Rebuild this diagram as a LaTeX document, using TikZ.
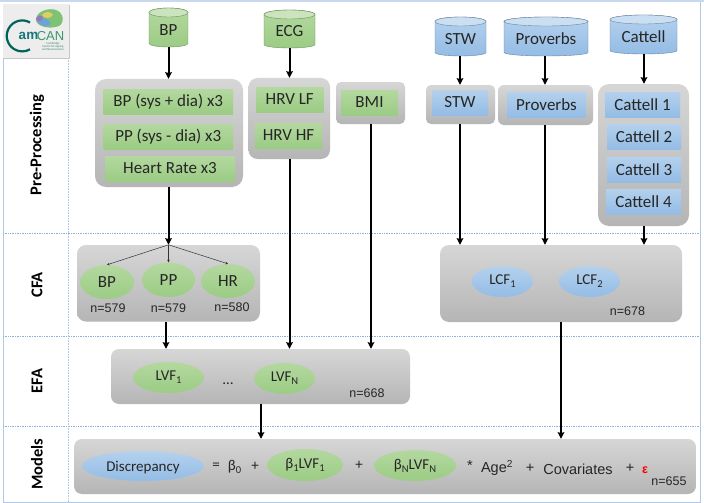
\documentclass[tikz,border=0pt]{standalone}
\usepackage{fontspec}
\setmainfont{Carlito}
\newfontfamily\helv{Liberation Sans}
\usetikzlibrary{arrows.meta,shapes.geometric,calc}
\definecolor{inkc}{HTML}{262626}
\definecolor{gridb}{HTML}{8FB0DF}
\definecolor{frameb}{HTML}{B4C8E6}
\definecolor{cygt}{RGB}{180,216,160}\definecolor{cygb}{RGB}{155,204,132}
\definecolor{cybt}{RGB}{180,209,237}\definecolor{cybb}{RGB}{148,188,229}
\tikzset{
  arr/.style={line width=2pt,black,-{Stealth[length=6.5pt,width=6.5pt,inset=0.6pt]}},
  thinarr/.style={line width=0.5pt,black!80,-{Stealth[length=2.6pt,width=2.6pt]}},
  grid line/.style={gridb,line width=0.7pt,densely dotted},
  frame line/.style={frameb,line width=0.9pt},
  grayc/.style={rectangle,rounded corners=#1,top color=black!16,bottom color=black!29,draw=none,inner sep=0pt},
  grayc/.default=9pt,
  greenbox/.style={rectangle,inner sep=0pt,text=inkc,font=\fontsize{17}{17}\selectfont,top color=cygt,bottom color=cygb},
  bluebox/.style={rectangle,inner sep=0pt,text=inkc,font=\fontsize{17}{17}\selectfont,top color=cybt,bottom color=cybb},
  greenell/.style={ellipse,inner sep=0pt,text=inkc,font=\fontsize{17}{17}\selectfont,top color=cygt,bottom color=cygb},
  blueell/.style={ellipse,inner sep=0pt,text=inkc,font=\fontsize{17}{17}\selectfont,top color=cybt,bottom color=cybb},
  cyllabel/.style={rectangle,inner sep=0pt,text=inkc,font=\fontsize{17}{17}\selectfont},
  nlabel/.style={inner sep=0pt,text=inkc,font=\helv\fontsize{12.5}{12.5}\selectfont},
  modeltext/.style={inner sep=0pt,text=inkc,font=\fontsize{15}{15}\selectfont},
  modelhelv/.style={inner sep=0pt,text=inkc,font=\helv\fontsize{14.5}{14.5}\selectfont},
  rowlabel/.style={rotate=90,inner sep=0pt,text=black,font=\bfseries\fontsize{16.5}{16.5}\selectfont},
}
% box by its corners: style, name, x1, y1, x2, y2, text
\newcommand{\pxbox}[7]{%
  \pgfmathsetmacro{\pxw}{#5-#3}\pgfmathsetmacro{\pxh}{#6-#4}%
  \node[#1,minimum width=\pxw pt,minimum height=\pxh pt] (#2) at ({(#3+#5)/2},{(#4+#6)/2}) {#7};}
% cylinder by its corners: name, x1, y1, x2, y2, top colour, bottom colour, text
\newcommand{\pxcyl}[8]{%
  \pgfmathsetmacro{\midx}{(#2+#4)/2}\pgfmathsetmacro{\rx}{(#4-#2)/2}%
  \path[top color=#6,bottom color=#7,draw=#7!70!black,line width=0.4pt]
    (#2,#3+4.5) -- (#2,#5-3.5) arc[start angle=180,end angle=360,x radius=\rx pt,y radius=3.5pt]
    -- (#4,#3+4.5) arc[start angle=0,end angle=180,x radius=\rx pt,y radius=4.5pt] -- cycle;
  \path[fill=#6!70!white,draw=#7!70!black,line width=0.4pt] (\midx,#3+4.5) ellipse[x radius=\rx pt,y radius=4.5pt];
  \pgfmathsetmacro{\pxw}{#4-#2}\pgfmathsetmacro{\pxh}{#5-#3}%
  \node[cyllabel,minimum width=\pxw pt,minimum height=\pxh pt] (#1) at (\midx,{(#3+#5)/2}) {\raisebox{-8pt}[0pt][0pt]{#8}};}
\newcommand{\lowtxt}[1]{\raisebox{-0.4ex}{\fontsize{10.5}{10.5}\selectfont #1}}
\begin{document}
\begin{tikzpicture}[x=1pt,y=-1pt]
\useasboundingbox (0,0) rectangle (704,503);
\fill[white] (0,0) rectangle (704,503);
% frame and rows
\fill[frameb!70!white] (0,0) rectangle (704,2);
\draw[frame line] (3,58) -- (3,502) -- (700,502) -- (700,2);
\draw[grid line] (3,233.5) -- (700,233.5);
\draw[grid line] (3,336) -- (700,336);
\draw[grid line] (3,426) -- (700,426);
\draw[gridb!70!white,line width=0.6pt,densely dotted] (68.5,58) -- (68.5,502);
% logo
\fill[black!22] (3,5) rectangle (69.5,59);
\fill[white!93!black] (3,4) rectangle (69,58);
\draw[line width=2.2pt,color={rgb,255:red,0;green,100;blue,90}] (30,22.5) arc[start angle=60,end angle=300,radius=15.5pt];
\fill[color={rgb,255:red,125;green,195;blue,115}] (36,21) .. controls (35,12) and (47,8) .. (54,9.5) .. controls (64,11) and (65,23) .. (59,26) .. controls (52,29) and (39,28) .. (36,21) -- cycle;
\fill[color={rgb,255:red,110;green,160;blue,220}] (37,21) .. controls (42,17) and (48,18) .. (51,23) .. controls (49,28) and (40,27) .. (37,21) -- cycle;
\fill[color={rgb,255:red,225;green,205;blue,100}] (42,15) .. controls (45,11) and (51,11) .. (53,15) .. controls (50,19) and (45,19) .. (42,15) -- cycle;
\fill[color={rgb,255:red,150;green,120;blue,190}] (36,19) .. controls (37,15) and (42,14) .. (43,18) .. controls (42,22) and (37,22) .. (36,19) -- cycle;
\node[inner sep=0pt,font=\helv\bfseries\fontsize{13.5}{13.5}\selectfont,color={rgb,255:red,20;green,120;blue,125}] (logoam) at (28.5,36) {am};
\node[inner sep=0pt,font=\helv\fontsize{13}{13}\selectfont,color={rgb,255:red,60;green,150;blue,110}] (logocan) at (50.5,36) {CAN};
\node[inner sep=0pt,align=center,font=\fontsize{3}{3.3}\selectfont,color={rgb,255:red,60;green,130;blue,110}] (logosub) at (53,46.5) {Cambridge\\Centre for Ageing\\and Neuroscience};
% row labels
\node[rowlabel] (lpre) at (37,145) {Pre-Processing};
\node[rowlabel] (lcfa) at (37,285) {CFA};
\node[rowlabel] (lefa) at (37,381) {EFA};
\node[rowlabel] (lmod) at (37,464) {Models};
% cylinders
\pxcyl{cbp}{149}{8}{188}{47}{cygt}{cygb}{BP}
\pxcyl{cecg}{264}{10}{315}{48}{cygt}{cygb}{ECG}
\pxcyl{cstw}{435}{17}{486}{56}{cybt}{cybb}{STW}
\pxcyl{cprov}{504}{17}{588}{56}{cybt}{cybb}{Proverbs}
\pxcyl{ccat}{610}{15}{677}{54}{cybt}{cybb}{Cattell}
% pre-processing groups
\pxbox{grayc=11pt}{gbp}{95}{79}{243}{187}{}
\pxbox{grayc=9pt}{ghrv}{248.5}{78}{330}{159}{}
\pxbox{grayc=5pt}{gbmi}{336}{82}{405}{124}{}
\pxbox{grayc=5pt}{gstw}{426}{85}{495}{124}{}
\pxbox{grayc=6pt}{gprov}{498}{85}{593}{125}{}
\pxbox{grayc=11pt}{gcat}{598}{84}{689}{226}{}
\pxbox{greenbox}{b1}{103.5}{89}{233}{114}{BP (sys + dia) x3}
\pxbox{greenbox}{b2}{103.5}{124}{233}{149}{PP (sys - dia) x3}
\pxbox{greenbox}{b3}{105}{156}{235}{181}{Heart Rate x3}
\pxbox{greenbox}{h1}{256}{87}{323.5}{112}{HRV LF}
\pxbox{greenbox}{h2}{255}{123}{322}{148}{HRV HF}
\pxbox{greenbox}{bmi}{341}{90}{398}{115}{BMI}
\pxbox{bluebox}{stw}{432}{90}{488}{115}{STW}
\pxbox{bluebox}{prov}{507}{92}{586}{117}{Proverbs}
\pxbox{bluebox}{cat1}{605}{92}{680}{117}{Cattell 1}
\pxbox{bluebox}{cat2}{607}{124}{681}{149}{Cattell 2}
\pxbox{bluebox}{cat3}{607}{157}{681}{182}{Cattell 3}
\pxbox{bluebox}{cat4}{606}{189}{681}{214}{Cattell 4}
% CFA
\pxbox{grayc=9pt}{gcfa}{77}{245}{260}{321.5}{}
\pxbox{greenell}{ebp}{80}{265}{134}{299}{BP}
\pxbox{greenell}{epp}{142}{262.5}{195}{297}{PP}
\pxbox{greenell}{ehr}{201}{264}{255}{298}{HR}
\node[nlabel] (n1) at (108,308.5) {n=579};
\node[nlabel] (n2) at (168.5,308.5) {n=579};
\node[nlabel] (n3) at (232,307) {n=580};
\pxbox{grayc=9pt}{glcf}{440}{245}{682}{322}{}
\pxbox{blueell}{lcf1}{472}{266}{533}{297}{\fontsize{15}{15}\selectfont LCF\lowtxt{1}}
\pxbox{blueell}{lcf2}{559}{266}{620}{297}{\fontsize{15}{15}\selectfont LCF\lowtxt{2}}
\node[nlabel] (n4) at (627.5,311.5) {n=678};
% EFA
\pxbox{grayc=8pt}{gefa}{111}{349}{410}{404}{}
\pxbox{greenell}{lvf1}{133}{362}{204}{393}{\fontsize{15}{15}\selectfont LVF\lowtxt{1}}
\pxbox{greenell}{lvfn}{254}{363}{315}{394}{\fontsize{15}{15}\selectfont LVF\lowtxt{N}}
\node[inner sep=0pt,text=inkc,font=\fontsize{15}{15}\selectfont] (dots) at (228,384) {\dots};
\node[nlabel] (n5) at (367,393.5) {n=668};
% Models
\pxbox{grayc=8pt}{gmod}{74}{439}{696}{494}{}
\pxbox{blueell}{disc}{82}{451}{204}{481}{\fontsize{15}{15}\selectfont\raisebox{-5pt}[0pt][0pt]{Discrepancy}}
\node[modeltext] (eq) at (216,466) {=};
\node[modeltext] (b0) at (234.5,467) {β\lowtxt{0}};
\node[modeltext] (p1) at (255,466) {+};
\pxbox{greenell}{m1}{267}{449}{343}{481}{\fontsize{15}{15}\selectfont β\lowtxt{1}LVF\lowtxt{1}}
\node[modeltext] (p2) at (359,465) {+};
\pxbox{greenell}{m2}{374}{450}{456}{481}{\fontsize{15}{15}\selectfont β\lowtxt{N}LVF\lowtxt{N}}
\node[modelhelv] (star) at (470,466) {*};
\node[modelhelv] (age) at (497,468) {Age\textsuperscript{2}};
\node[modelhelv] (p3) at (530,468) {+};
\node[modelhelv] (cov) at (578,469) {Covariates};
\node[modelhelv] (p4) at (630,468) {+};
\node[inner sep=0pt,text=red,font=\helv\bfseries\fontsize{12.5}{12.5}\selectfont] (eps) at (645,470) {ε};
\node[nlabel] (n6) at (669,481) {n=655};
% connectors
\coordinate (xlvf) at (166,0);
\coordinate (xhrv) at (289.5,0);
\coordinate (xbmi) at (371,0);
\coordinate (xefa) at (261,0);
\coordinate (xlcf) at (561,0);
\coordinate (xstw) at (460,0);
\coordinate (xprov) at (545,0);
\coordinate (xcat) at (644,0);
\coordinate (xbp) at (168.5,0);
\draw[arr] (cbp.south -| xbp) -- (gbp.north -| xbp);
\draw[arr] (cecg.south -| xhrv) -- (ghrv.north -| xhrv);
\draw[arr] (cstw.south -| xstw) -- (gstw.north -| xstw);
\draw[arr] (cprov.south -| xprov) -- (gprov.north -| xprov);
\draw[arr] (ccat.south -| xcat) -- (gcat.north -| xcat);
\draw[arr] (gbp.south -| xbp) -- (gcfa.north -| xbp);
\draw[arr] (ghrv.south -| xhrv) -- (gefa.north -| xhrv);
\draw[arr] (gbmi.south -| xbmi) -- (gefa.north -| xbmi);
\draw[arr] (gstw.south -| xstw) -- (glcf.north -| xstw);
\draw[arr] (gprov.south -| xprov) -- (glcf.north -| xprov);
\draw[arr] (gcat.south -| xcat) -- (glcf.north -| xcat);
\draw[arr] (gcfa.south -| xlvf) -- (gefa.north -| xlvf);
\draw[arr] (gefa.south -| xefa) -- (gmod.north -| xefa);
\draw[arr] (glcf.south -| xlcf) -- (gmod.north -| xlcf);
\draw[thinarr] (gcfa.north -| xbp) -- (ebp.north);
\draw[thinarr] (gcfa.north -| xbp) -- (epp.north);
\draw[thinarr] (gcfa.north -| xbp) -- (ehr.north);
\end{tikzpicture}
\end{document}
